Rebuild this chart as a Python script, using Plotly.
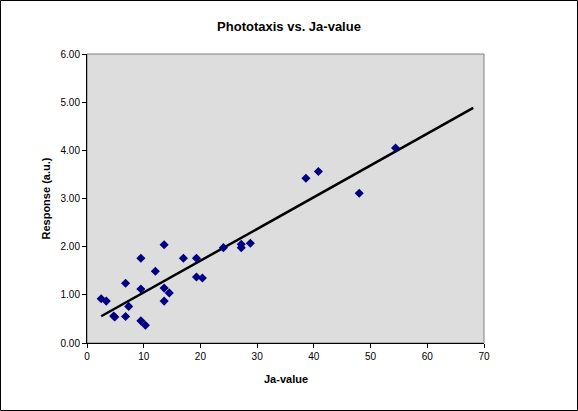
import plotly.graph_objects as go

ja_value = [2.5, 3.4, 4.7, 4.9, 6.8, 6.8, 7.35, 9.5, 10.3, 9.5, 9.5, 12.05, 13.6, 13.6, 13.6,
            14.5, 17.0, 19.3, 19.3, 20.35, 24.05, 27.2, 27.2, 28.8, 38.6, 40.8, 48.0, 54.4]
response = [0.92, 0.87, 0.56, 0.54, 0.55, 1.24, 0.76, 0.46, 0.37, 1.76, 1.12, 1.49, 2.04, 1.14, 0.87,
            1.04, 1.76, 1.76, 1.37, 1.35, 1.98, 2.05, 1.98, 2.07, 3.42, 3.56, 3.11, 4.05]

trend_x = [2.5, 68.1]
trend_y = [0.555, 4.88]

x_ticks = [0, 10, 20, 30, 40, 50, 60, 70]
y_ticks = [0, 1, 2, 3, 4, 5, 6]

FONT = "Liberation Sans, Arial, sans-serif"

fig = go.Figure()
fig.add_trace(go.Scatter(x=trend_x, y=trend_y, mode="lines",
                         line=dict(color="black", width=2.5), hoverinfo="skip"))
fig.add_trace(go.Scatter(x=ja_value, y=response, mode="markers",
                         marker=dict(symbol="diamond", size=7, color="#000080")))

W, H = 578, 411
L, R, T, B = 87, 94, 54, 68
pw, ph = W - L - R, H - T - B

fig.update_layout(
    width=W, height=H,
    margin=dict(l=L, r=R, t=T, b=B, pad=0),
    paper_bgcolor="white", plot_bgcolor="#dddddd",
    showlegend=False,
    font=dict(family=FONT, size=10, color="black"),
    title=dict(text="<b>Phototaxis vs. Ja-value</b>", x=0.5, xanchor="center",
               y=1 - 26 / H, yanchor="middle", yref="container",
               font=dict(family=FONT, size=13, color="black")),
    xaxis=dict(range=[0, 70], tickvals=x_ticks, ticktext=[str(v) for v in x_ticks],
               showgrid=False, zeroline=False, showline=True, linecolor="black",
               linewidth=1, ticks="outside", ticklen=4, tickcolor="black",
               tickfont=dict(size=10)),
    yaxis=dict(range=[0, 6], tickvals=y_ticks, ticktext=[f"{v:.2f}" for v in y_ticks],
               showgrid=False, zeroline=False, showline=True, linecolor="black",
               linewidth=1, ticks="outside", ticklen=4, tickcolor="black",
               tickfont=dict(size=10)),
    shapes=[
        dict(type="rect", xref="paper", yref="paper", x0=0, x1=1, y0=0, y1=1,
             line=dict(color="#808080", width=1), layer="below"),
        dict(type="rect", xref="paper", yref="paper",
             x0=(0.5 - L) / pw, x1=(W - 0.5 - L) / pw,
             y0=(H - B - (H - 0.5)) / ph, y1=(H - B - 0.5) / ph,
             line=dict(color="black", width=1)),
    ],
    annotations=[
        dict(text="<b>Response (a.u.)</b>", xref="paper", yref="paper",
             x=(45 - L) / pw, y=0.5, textangle=-90, showarrow=False,
             xanchor="center", yanchor="middle", font=dict(size=11)),
        dict(text="<b>Ja-value</b>", xref="paper", yref="paper",
             x=0.5, y=(H - B - 379) / ph, showarrow=False,
             xanchor="center", yanchor="middle", font=dict(size=11)),
    ],
)

fig.write_html("out.html", config={"displayModeBar": False},
               post_script="document.body.style.margin='0';document.body.style.overflow='hidden';")
